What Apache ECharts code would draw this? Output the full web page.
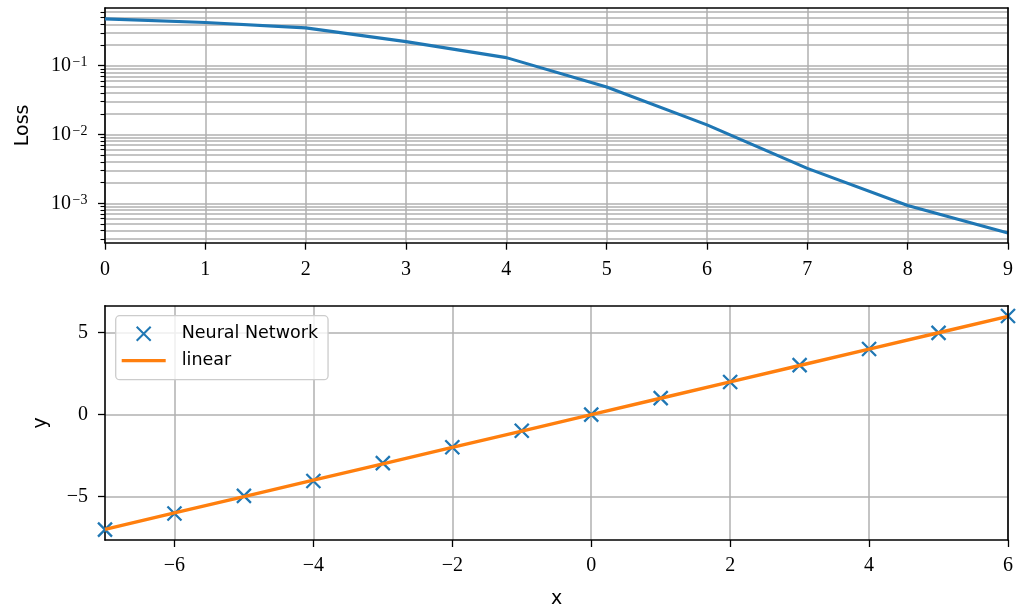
<!DOCTYPE html>
<html>
<head>
<meta charset="utf-8">
<script src="https://cdn.jsdelivr.net/npm/echarts@6/dist/echarts.min.js"></script>
<style>
html,body{margin:0;padding:0;background:#fff;}
#chart{width:1017px;height:610px;}
</style>
</head>
<body>
<div id="chart"></div>
<script>
// ---- data ----
const epochs = [0, 1, 2, 3, 4, 5, 6, 7, 8, 9];
const loss = [0.48, 0.425, 0.355, 0.224, 0.131, 0.049, 0.0138, 0.00321, 0.00093, 0.00037];
const lossRange = [0.000267, 0.69];
const lossMajorTicks = [0.001, 0.01, 0.1];
const lossMinorTicks = [0.0003, 0.0004, 0.0005, 0.0006, 0.0007, 0.0008, 0.0009,
  0.002, 0.003, 0.004, 0.005, 0.006, 0.007, 0.008, 0.009,
  0.02, 0.03, 0.04, 0.05, 0.06, 0.07, 0.08, 0.09,
  0.2, 0.3, 0.4, 0.5, 0.6];
const epochTicks = [0, 1, 2, 3, 4, 5, 6, 7, 8, 9];

const xs = [-7, -6, -5, -4, -3, -2, -1, 0, 1, 2, 3, 4, 5, 6];
const nnPred = [-7.02, -6.03, -4.96, -4.05, -2.96, -1.99, -0.98, 0.0, 1.01, 1.99, 3.02, 4.01, 4.99, 6.02];
const linearY = [-7, -6, -5, -4, -3, -2, -1, 0, 1, 2, 3, 4, 5, 6];
const xRange = [-7, 6];
const yRange = [-7.65, 6.65];
const xTicks = [-6, -4, -2, 0, 2, 4, 6];
const yTicks = [-5, 0, 5];

// ---- styles ----
const SERIF = 'Liberation Serif';
const SANS = 'DejaVu Sans';
const GRID_COLOR = '#b0b0b0';
const GRID_W = 1.5;
const SPINE = { color: '#000', width: 1.6 };
const minus = v => (v < 0 ? '\u2212' + Math.abs(v) : String(v));
const tickLabel = { color: '#000', fontFamily: SERIF, fontSize: 20, margin: 16 };
const log10 = v => Math.log10(v);

const G0 = { left: 105, top: 8, width: 903, height: 234.7 };
const G1 = { left: 105, top: 305.7, width: 903, height: 234.3 };

function spineAxis(grid, pos) {
  return {
    type: 'value', gridIndex: grid, position: pos, z: 5,
    axisLine: { show: true, onZero: false, lineStyle: SPINE },
    axisTick: { show: false }, axisLabel: { show: false }, splitLine: { show: false }
  };
}

const option = {
  animation: false,
  backgroundColor: '#fff',
  grid: [G0, G1],
  legend: {
    show: true,
    orient: 'vertical',
    left: 115.7, top: 315.7,
    itemWidth: 44, itemHeight: 14, itemGap: 9,
    padding: [9, 10, 10, 6],
    backgroundColor: 'rgba(255,255,255,0.8)',
    borderColor: '#cccccc', borderWidth: 1.3, borderRadius: 4,
    selectedMode: false,
    textStyle: { color: '#000', fontFamily: SANS, fontSize: 17.5, lineHeight: 14, padding: [0, 0, 0, 11] },
    data: [
      { name: 'Neural Network', icon: 'path://M0,0L1,1M1,0L0,1' },
      { name: 'linear', icon: 'path://M0,0H44V3.3H0Z' }
    ]
  },
  xAxis: [
    {
      type: 'value', gridIndex: 0, position: 'bottom', min: epochTicks[0], max: epochTicks[epochTicks.length - 1], interval: 1,
      axisLine: { show: true, onZero: false, lineStyle: SPINE },
      axisTick: { show: true, length: 7, lineStyle: { color: '#000', width: 1.3 } },
      axisLabel: Object.assign({}, tickLabel, { margin: 17 }),
      splitLine: { show: true, lineStyle: { color: GRID_COLOR, width: GRID_W } }
    },
    Object.assign(spineAxis(0, 'top'), { min: 0, max: 9 }),
    {
      type: 'value', gridIndex: 1, position: 'bottom', min: xRange[0], max: xRange[1],
      name: 'x', nameLocation: 'middle', nameGap: 50,
      nameTextStyle: { color: '#000', fontFamily: SANS, fontSize: 19 },
      axisLine: { show: true, onZero: false, lineStyle: SPINE },
      axisTick: { show: true, length: 7, customValues: xTicks, lineStyle: { color: '#000', width: 1.3 } },
      axisLabel: Object.assign({}, tickLabel, { customValues: xTicks, formatter: minus }),
      splitLine: { show: true, lineStyle: { color: GRID_COLOR, width: GRID_W } }
    },
    Object.assign(spineAxis(1, 'top'), { min: xRange[0], max: xRange[1] })
  ],
  yAxis: [
    {
      type: 'log', gridIndex: 0, position: 'left', min: lossRange[0], max: lossRange[1],
      name: 'Loss', nameLocation: 'middle', nameGap: 72,
      nameTextStyle: { color: '#000', fontFamily: SANS, fontSize: 19 },
      axisLine: { show: true, onZero: false, lineStyle: SPINE },
      axisTick: { show: false }, axisLabel: { show: false }, splitLine: { show: false }
    },
    {
      type: 'value', gridIndex: 0, position: 'left', min: log10(lossRange[0]), max: log10(lossRange[1]),
      axisLine: { show: false, onZero: false },
      axisTick: { show: true, length: 7, customValues: lossMajorTicks.map(log10), lineStyle: { color: '#000', width: 1.3 } },
      axisLabel: {
        show: true, margin: 17.5, customValues: lossMajorTicks.map(log10),
        formatter: v => '{b|10}{s|\u2212' + Math.abs(Math.round(v)) + '}',
        rich: {
          b: { color: '#000', fontFamily: SERIF, fontSize: 20, lineHeight: 20 },
          s: { color: '#000', fontFamily: SERIF, fontSize: 14, verticalAlign: 'top', lineHeight: 8, padding: [0, 0, 0, 1.5] }
        }
      },
      splitLine: { show: true, lineStyle: { color: GRID_COLOR, width: GRID_W } }
    },
    {
      type: 'value', gridIndex: 0, position: 'left', min: log10(lossRange[0]), max: log10(lossRange[1]),
      axisLine: { show: false, onZero: false },
      axisTick: { show: true, length: 4.5, customValues: lossMinorTicks.map(log10), lineStyle: { color: '#000', width: 1.1 } },
      axisLabel: { show: false },
      splitLine: { show: true, lineStyle: { color: GRID_COLOR, width: GRID_W } }
    },
    spineAxis(0, 'right'),
    {
      type: 'value', gridIndex: 1, position: 'left', min: yRange[0], max: yRange[1],
      name: 'y', nameLocation: 'middle', nameGap: 54,
      nameTextStyle: { color: '#000', fontFamily: SANS, fontSize: 19 },
      axisLine: { show: true, onZero: false, lineStyle: SPINE },
      axisTick: { show: true, length: 7, customValues: yTicks, lineStyle: { color: '#000', width: 1.3 } },
      axisLabel: Object.assign({}, tickLabel, { customValues: yTicks, formatter: minus, margin: 17 }),
      splitLine: { show: true, lineStyle: { color: GRID_COLOR, width: GRID_W } }
    },
    spineAxis(1, 'right')
  ],
  series: [
    {
      name: 'Loss', type: 'line', xAxisIndex: 0, yAxisIndex: 0, z: 3,
      data: epochs.map((e, i) => [e, loss[i]]),
      symbol: 'none', clip: true,
      lineStyle: { color: '#1f77b4', width: 3.1 }
    },
    {
      name: 'Neural Network', type: 'scatter', xAxisIndex: 2, yAxisIndex: 4, z: 2,
      data: xs.map((x, i) => [x, nnPred[i]]),
      symbol: 'path://M0,0L1,1M1,0L0,1', symbolSize: 14, clip: true,
      itemStyle: { color: '#1f77b4', borderColor: '#1f77b4', borderWidth: 2.3, opacity: 1 }
    },
    {
      name: 'linear', type: 'line', xAxisIndex: 2, yAxisIndex: 4, z: 3,
      data: xs.map((x, i) => [x, linearY[i]]),
      symbol: 'none', clip: true,
      itemStyle: { color: '#ff7f0e' },
      lineStyle: { color: '#ff7f0e', width: 3.4 }
    }
  ]
};

const chart = echarts.init(document.getElementById('chart'), null, { renderer: 'canvas' });
chart.setOption(option);
</script>
</body>
</html>
